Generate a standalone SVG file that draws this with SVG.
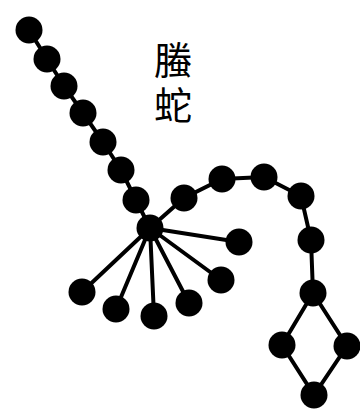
<svg xmlns="http://www.w3.org/2000/svg" width="360" height="413" viewBox="0 0 360 413">
<style>
.n{fill:#000}
.e{stroke:#000;stroke-width:4;stroke-linecap:round;fill:none}
.t{font-family:"Liberation Serif","Noto Sans CJK SC",serif;font-size:38px;fill:#000;text-anchor:middle}
</style>
<rect width="360" height="413" fill="#fff"/>
<g id="connectors">
<polyline class="e" points="29,30 47,59 64,86 83,113 103,142 121,170 136,200 150,228"/>
<polyline class="e" points="150,228 184,198 222,179 264,177 301,196 311,240 313,293"/>
<polygon class="e" points="313,293 282,345 314,395 347,346"/>
<line class="e" x1="150" y1="228" x2="239" y2="242"/>
<line class="e" x1="150" y1="228" x2="221" y2="280"/>
<line class="e" x1="150" y1="228" x2="189" y2="303"/>
<line class="e" x1="150" y1="228" x2="154" y2="316"/>
<line class="e" x1="150" y1="228" x2="116" y2="309"/>
<line class="e" x1="150" y1="228" x2="82" y2="292"/>
</g>
<g id="label"><text class="t" x="173" y="74">螣</text><text class="t" x="173" y="119">蛇</text></g>
<g id="n1"><circle class="n" cx="29" cy="30" r="13.5"/></g>
<g id="n2"><circle class="n" cx="47" cy="59" r="13.5"/></g>
<g id="n3"><circle class="n" cx="64" cy="86" r="13.5"/></g>
<g id="n4"><circle class="n" cx="83" cy="113" r="13.5"/></g>
<g id="n5"><circle class="n" cx="103" cy="142" r="13.5"/></g>
<g id="n6"><circle class="n" cx="121" cy="170" r="13.5"/></g>
<g id="n7"><circle class="n" cx="136" cy="200" r="13.5"/></g>
<g id="hub"><circle class="n" cx="150" cy="228" r="13.5"/></g>
<g id="n9"><circle class="n" cx="184" cy="198" r="13.5"/></g>
<g id="n10"><circle class="n" cx="222" cy="179" r="13.5"/></g>
<g id="n11"><circle class="n" cx="264" cy="177" r="13.5"/></g>
<g id="n12"><circle class="n" cx="301" cy="196" r="13.5"/></g>
<g id="n13"><circle class="n" cx="311" cy="240" r="13.5"/></g>
<g id="n14"><circle class="n" cx="313" cy="293" r="13.5"/></g>
<g id="n15"><circle class="n" cx="282" cy="345" r="13.5"/></g>
<g id="n16"><circle class="n" cx="347" cy="346" r="13.5"/></g>
<g id="n17"><circle class="n" cx="314" cy="395" r="13.5"/></g>
<g id="s1"><circle class="n" cx="239" cy="242" r="13.5"/></g>
<g id="s2"><circle class="n" cx="221" cy="280" r="13.5"/></g>
<g id="s3"><circle class="n" cx="189" cy="303" r="13.5"/></g>
<g id="s4"><circle class="n" cx="154" cy="316" r="13.5"/></g>
<g id="s5"><circle class="n" cx="116" cy="309" r="13.5"/></g>
<g id="s6"><circle class="n" cx="82" cy="292" r="13.5"/></g>
</svg>
